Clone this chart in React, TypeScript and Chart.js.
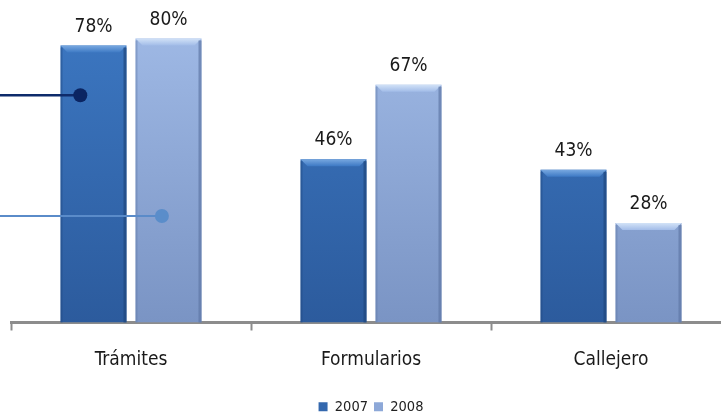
import React, { useEffect, useRef } from "react";
import { Chart, registerables } from "chart.js";

Chart.register(...registerables);

const categories = ["Trámites", "Formularios", "Callejero"];
const seriesLabels = ["2007", "2008"];
const values2007 = [78, 46, 43];
const values2008 = [80, 67, 28];
// leader-line markers: level (%) and relative position inside the first bar of each series
const markerLevels = [64, 30];
const markerFractions = [0.3, 0.4];

const FONT = '"DejaVu Sans Condensed", "Liberation Sans Narrow", "DejaVu Sans", sans-serif';

const palette = [
  { top: "#3D79C4", bottom: "#2C5B9D", bevel: "#78A8E0", edge: "#1F477E", solid: "#3468AE" },
  { top: "#A2BCE8", bottom: "#7A94C4", bevel: "#D2E2F7", edge: "#5F78A6", solid: "#8DA8D8" },
];
const markerColors = [
  { line: "#0E2B6B", dot: "#0B2562", width: 2.5 },
  { line: "#5A8BC9", dot: "#5A8DCA", width: 2 },
];

function gradientFor(i: number) {
  return (c: any) => {
    const chart = c.chart;
    const area = chart.chartArea;
    if (!area) return palette[i].solid;
    const g = chart.ctx.createLinearGradient(0, area.top, 0, area.bottom);
    g.addColorStop(0, palette[i].top);
    g.addColorStop(1, palette[i].bottom);
    return g;
  };
}

const bevelPlugin = {
  id: "bevel",
  afterDatasetsDraw(chart: any) {
    const ctx = chart.ctx;
    chart.data.datasets.forEach((_: any, di: number) => {
      const meta = chart.getDatasetMeta(di);
      meta.data.forEach((bar: any) => {
        const { x, y, base, width } = bar.getProps(["x", "y", "base", "width"], true);
        const l = x - width / 2;
        const r = x + width / 2;
        const d = 7;
        ctx.save();
        const g = ctx.createLinearGradient(0, y, 0, y + d);
        g.addColorStop(0, palette[di].bevel);
        g.addColorStop(1, palette[di].top);
        ctx.fillStyle = g;
        ctx.beginPath();
        ctx.moveTo(l, y);
        ctx.lineTo(r, y);
        ctx.lineTo(r - d, y + d);
        ctx.lineTo(l + d, y + d);
        ctx.closePath();
        ctx.fill();
        ctx.fillStyle = palette[di].edge;
        ctx.globalAlpha = 0.7;
        ctx.fillRect(r - 3, y + 2, 3, base - y - 2);
        ctx.globalAlpha = 0.4;
        ctx.fillRect(l, y + 2, 2, base - y - 2);
        ctx.restore();
      });
    });
  },
};

const valueLabelPlugin = {
  id: "valueLabels",
  afterDatasetsDraw(chart: any) {
    const ctx = chart.ctx;
    ctx.save();
    ctx.font = `19px ${FONT}`;
    ctx.fillStyle = "#1a1a1a";
    ctx.textAlign = "center";
    ctx.textBaseline = "alphabetic";
    chart.data.datasets.forEach((ds: any, di: number) => {
      const meta = chart.getDatasetMeta(di);
      meta.data.forEach((bar: any, i: number) => {
        ctx.fillText(`${ds.data[i]}%`, bar.x, bar.y - 14);
      });
    });
    ctx.restore();
  },
};

const markerPlugin = {
  id: "markers",
  afterDatasetsDraw(chart: any) {
    const ctx = chart.ctx;
    const yScale = chart.scales.y;
    ctx.save();
    markerLevels.forEach((lvl, di) => {
      const bar: any = chart.getDatasetMeta(di).data[0];
      if (!bar) return;
      const px = bar.x - bar.width / 2 + bar.width * markerFractions[di];
      const py = yScale.getPixelForValue(lvl);
      const c = markerColors[di];
      ctx.strokeStyle = c.line;
      ctx.lineWidth = c.width;
      ctx.beginPath();
      ctx.moveTo(0, py);
      ctx.lineTo(px, py);
      ctx.stroke();
      ctx.fillStyle = c.dot;
      ctx.beginPath();
      ctx.arc(px, py, 7, 0, Math.PI * 2);
      ctx.fill();
    });
    ctx.restore();
  },
};

export default function App() {
  const ref = useRef<HTMLCanvasElement>(null);
  useEffect(() => {
    document.body.style.overflow = "hidden";
    const chart = new Chart(ref.current!, {
      type: "bar",
      data: {
        labels: categories,
        datasets: [
          {
            label: seriesLabels[0],
            data: values2007,
            backgroundColor: gradientFor(0),
            categoryPercentage: 0.625,
            barPercentage: 0.88,
          },
          {
            label: seriesLabels[1],
            data: values2008,
            backgroundColor: gradientFor(1),
            categoryPercentage: 0.625,
            barPercentage: 0.88,
          },
        ],
      },
      options: {
        animation: false,
        responsive: true,
        maintainAspectRatio: false,
        layout: { padding: { left: 11, right: 1, top: 3, bottom: -5 } },
        scales: {
          x: {
            grid: {
              offset: true,
              drawOnChartArea: false,
              drawTicks: true,
              tickLength: 8,
              tickWidth: 2,
              tickColor: "#8c8c8c",
            },
            border: { color: "#8c8c8c", width: 3 },
            ticks: { font: { family: FONT, size: 19 }, color: "#1a1a1a", padding: 18 },
            afterFit: (s: any) => {
              s.height = 71;
            },
          },
          y: { display: false, min: 0, max: 90 },
        },
        plugins: {
          legend: {
            position: "bottom",
            labels: {
              boxWidth: 9,
              boxHeight: 9,
              padding: 6,
              color: "#222",
              font: { family: FONT, size: 14.5 },
              generateLabels: () =>
                seriesLabels.map((t, i) => ({
                  text: t,
                  fillStyle: palette[i].solid,
                  strokeStyle: palette[i].solid,
                  lineWidth: 0,
                  hidden: false,
                  datasetIndex: i,
                  fontColor: "#222",
                })),
            },
          },
          tooltip: { enabled: false },
        },
      },
      plugins: [bevelPlugin, valueLabelPlugin, markerPlugin],
    } as any);
    return () => chart.destroy();
  }, []);
  return (
    <div style={{ position: "fixed", left: 0, top: 0, width: 732, height: 419 }}>
      <canvas ref={ref} />
    </div>
  );
}
